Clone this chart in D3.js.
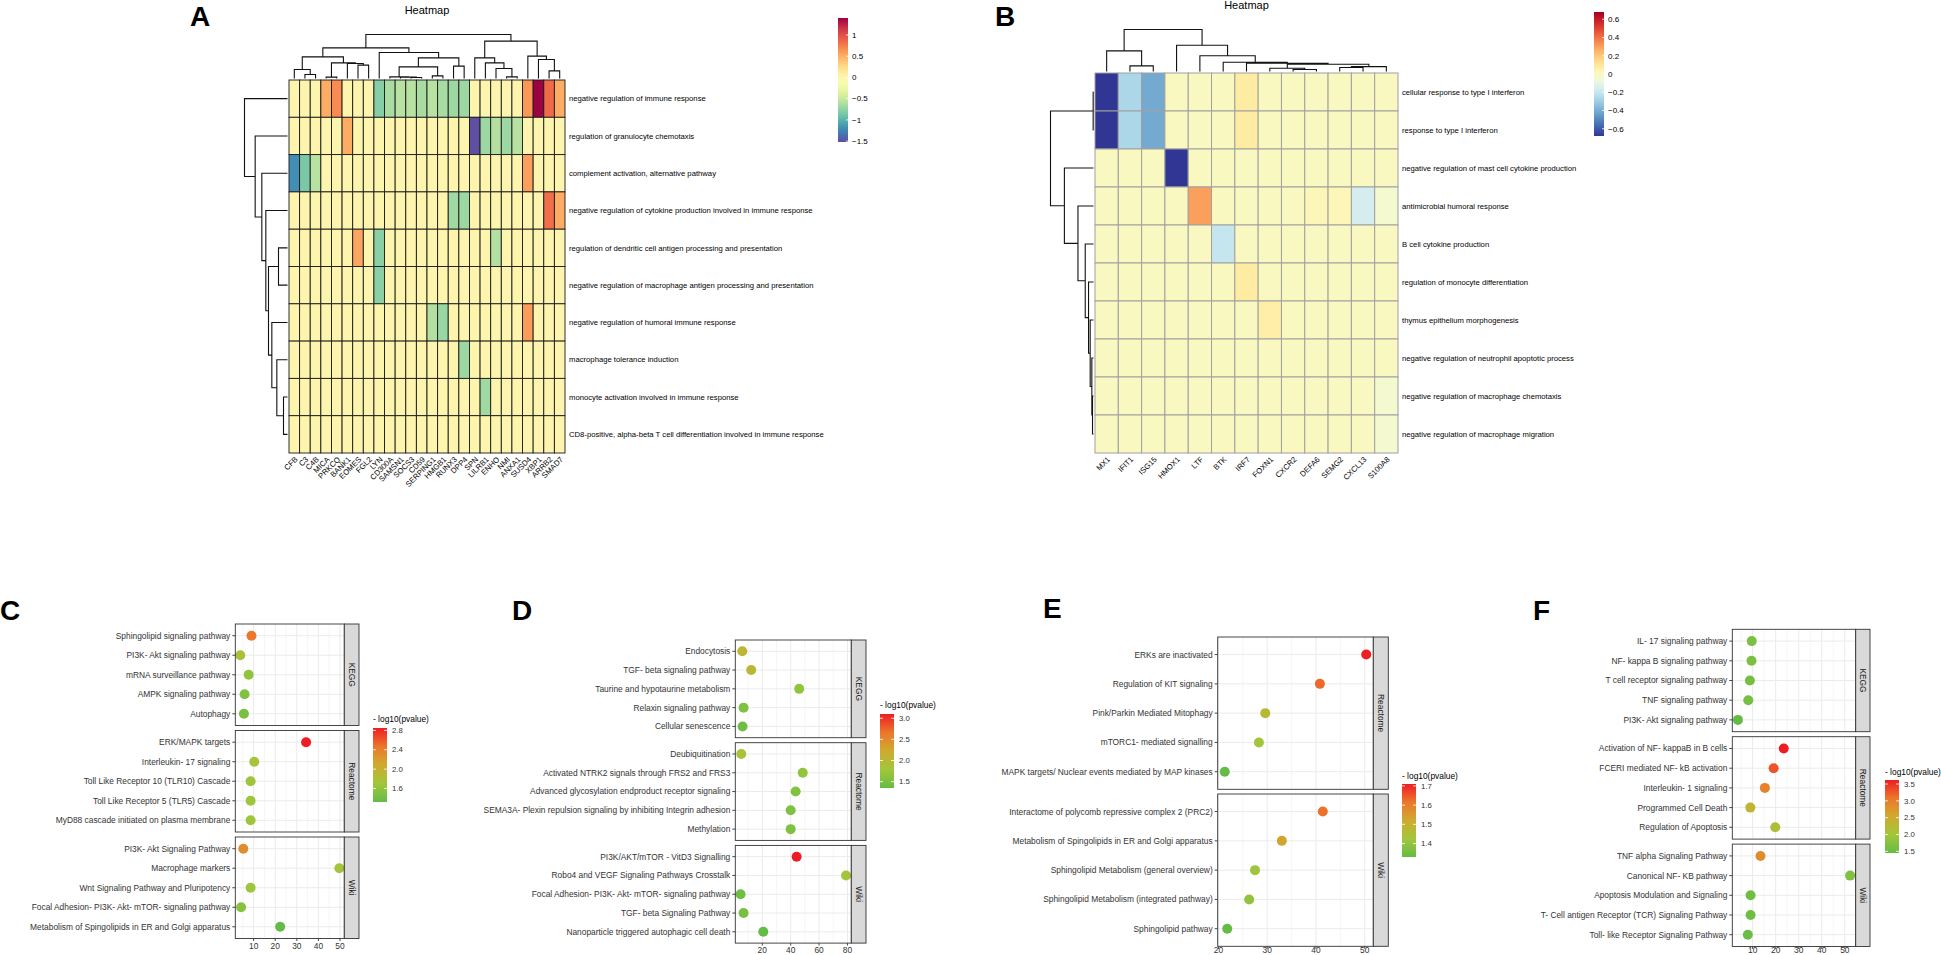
<!DOCTYPE html>
<html>
<head>
<meta charset="utf-8">
<script src="https://cdn.jsdelivr.net/npm/d3@7/dist/d3.min.js"></script>
<style>
html,body{margin:0;padding:0;background:#fff;}
svg{display:block;}
</style>
</head>
<body>
<svg id="fig" width="1941" height="955" xmlns="http://www.w3.org/2000/svg"></svg>
<script>
// ================= DATA =================
// ---- Panel A heatmap ----
const heatA_rows = [
  "negative regulation of immune response",
  "regulation of granulocyte chemotaxis",
  "complement activation, alternative pathway",
  "negative regulation of cytokine production involved in immune response",
  "regulation of dendritic cell antigen processing and presentation",
  "negative regulation of macrophage antigen processing and presentation",
  "negative regulation of humoral immune response",
  "macrophage tolerance induction",
  "monocyte activation involved in immune response",
  "CD8-positive, alpha-beta T cell differentiation involved in immune response"
];
const heatA_cols = ["CFB","C3","C4B","MICA","PRKCQ","BANK1","EOMES","FGL2","LYN","CD300A","SAMSN1","SOCS3","CD59",
  "SERPING1","HMGB1","RUNX3","DPP4","SPN","LILRB1","ENHO","NMI","ANXA1","SUSD4","XBP1","ARRB2","SMAD7"];
const heatA_values = [
  [0,0,0,0.52,0.68,0,0,0,-0.8,-0.65,-0.58,-0.58,-0.65,-0.58,-0.65,-0.7,-0.7,0,0,0,0,0,0.62,1.4,0.85,0.52],
  [0,0,0,0,0,0.52,0,0,0,0,0,0,0,0,0,0,0,-1.52,-0.7,-0.6,-0.7,-0.58,0,0,0,0],
  [-1.2,-0.85,-0.58,0,0,0,0,0,0,0,0,0,0,0,0,0,0,0,0,0,0,0,0.58,0,0,0],
  [0,0,0,0,0,0,0,0,0,0,0,0,0,0,0,-0.68,-0.7,0,0,0,0,0,0,0,0.82,0.52],
  [0,0,0,0,0,0,0.55,0,-0.78,0,0,0,0,0,0,0,0,0,0,-0.6,0,0,0,0,0,0],
  [0,0,0,0,0,0,0,0,-0.78,0,0,0,0,0,0,0,0,0,0,0,0,0,0,0,0,0],
  [0,0,0,0,0,0,0,0,0,0,0,0,0,-0.6,-0.72,0,0,0,0,0,0,0,0.6,0,0,0],
  [0,0,0,0,0,0,0,0,0,0,0,0,0,0,0,0,-0.7,0,0,0,0,0,0,0,0,0],
  [0,0,0,0,0,0,0,0,0,0,0,0,0,0,0,0,0,0,-0.68,0,0,0,0,0,0,0],
  [0,0,0,0,0,0,0,0,0,0,0,0,0,0,0,0,0,0,0,0,0,0,0,0,0,0]
];
// dendrograms: [height, left, right], leaves = index
const heatA_colTree = [132,
  [92,
    [65, [27, 0, [12, 1, 2]], [47, [4, 3, 4], [45, 5, [40, 6, 7]]]],
    [78, 8, [62, [35, [5, 9, [4, 10, [3, 11, 12]]], [8, 13, 14]], [37, 15, 16]]]
  ],
  [112,
    [62, 17, [47, 18, [30, 19, [5, 20, 21]]]],
    [67, 22, [57, 23, [23, 24, 25]]]
  ]
];
const heatA_rowTree = [129, 0, [97, 1, [77, 2, [65, 3, [57, [27, 4, 5], [47, 6, [32, 7, [12, 8, 9]]]]]]]];
const heatA_range = [-1.52, 1.4];
const heatA_legendTicks = [1, 0.5, 0, -0.5, -1, -1.5];

// ---- Panel B heatmap ----
const heatB_rows = [
  "cellular response to type I interferon",
  "response to type I interferon",
  "negative regulation of mast cell cytokine production",
  "antimicrobial humoral response",
  "B cell cytokine production",
  "regulation of monocyte differentiation",
  "thymus epithelium morphogenesis",
  "negative regulation of neutrophil apoptotic process",
  "negative regulation of macrophage chemotaxis",
  "negative regulation of macrophage migration"
];
const heatB_cols = ["MX1","IFIT1","ISG15","HMOX1","LTF","BTK","IRF7","FOXN1","CXCR2","DEFA6","SEMG2","CXCL13","S100A8"];
const heatB_values = [
  [-0.68,-0.27,-0.41,0,0,0,0.08,0,0,0,0,0,0],
  [-0.68,-0.27,-0.41,0,0,0,0.08,0,0,0,0,0,0],
  [0,0,0,-0.68,0,0,0,0,0,0,0,0,0],
  [0,0,0,0,0.3,0,0,0,0,0.02,0.02,-0.16,-0.04],
  [0,0,0,0,0,-0.2,0,0,0,0,0,0,0],
  [0,0,0,0,0,0,0.08,0,0,0,0,0,0],
  [0,0,0,0,0,0,0,0.07,0,0,0,0,0],
  [0,0,0,0,0,0,0,0,0,0,0,0,0],
  [0,0,0,0,0,0,0,0,0,0,0,0,-0.04],
  [0,0,0,0,0,0,0,0,0,0,0,0,-0.04]
];
const heatB_colTree = [128, [63, 0, [17, 1, 2]], [80, 3, [48, 4, [28, 5, [25, 6, [22, [10, 7, [6, 8, 9]], [15, [12, 10, 11], 12]]]]]]];
const heatB_rowTree = [130, [1, 0, 1], [88, 2, [47, 3, [25, 4, [15, 5, [10, 6, [5, 7, [3, 8, 9]]]]]]]];
const heatB_range = [-0.68, 0.68];
const heatB_legendTicks = [0.6, 0.4, 0.2, 0, -0.2, -0.4, -0.6];

// ---- Panel C dot plot ----
const C_terms = ["Sphingolipid signaling pathway","PI3K- Akt signaling pathway","mRNA surveillance pathway","AMPK signaling pathway","Autophagy",
  "ERK/MAPK targets","Interleukin- 17 signaling","Toll Like Receptor 10 (TLR10) Cascade","Toll Like Receptor 5 (TLR5) Cascade","MyD88 cascade initiated on plasma membrane",
  "PI3K- Akt Signaling Pathway","Macrophage markers","Wnt Signaling Pathway and Pluripotency","Focal Adhesion- PI3K- Akt- mTOR- signaling pathway","Metabolism of Spingolipids in ER and Golgi apparatus"];
const C_db = ["KEGG","KEGG","KEGG","KEGG","KEGG","Reactome","Reactome","Reactome","Reactome","Reactome","Wiki","Wiki","Wiki","Wiki","Wiki"];
const C_count = [9.0,3.8,7.7,5.8,5.5, 34.3,10.3,8.6,8.6,8.6, 5.2,49.7,8.6,4.2,22.3];
const C_score = [2.47,1.8,1.6,1.5,1.45, 2.85,1.75,1.68,1.68,1.68, 2.3,1.72,1.68,1.55,1.32];
const C_xTicks = [10,20,30,40,50];
const C_scoreTicks = [1.6,2.0,2.4,2.8];

// ---- Panel D dot plot ----
const D_terms = ["Endocytosis","TGF- beta signaling pathway","Taurine and hypotaurine metabolism","Relaxin signaling pathway","Cellular senescence",
  "Deubiquitination","Activated NTRK2 signals through FRS2 and FRS3","Advanced glycosylation endproduct receptor signaling","SEMA3A- Plexin repulsion signaling by inhibiting Integrin adhesion","Methylation",
  "PI3K/AKT/mTOR -  VitD3 Signalling","Robo4 and VEGF Signaling Pathways Crosstalk","Focal Adhesion- PI3K- Akt- mTOR- signaling pathway","TGF- beta Signaling Pathway","Nanoparticle triggered autophagic cell death"];
const D_db = ["KEGG","KEGG","KEGG","KEGG","KEGG","Reactome","Reactome","Reactome","Reactome","Reactome","Wiki","Wiki","Wiki","Wiki","Wiki"];
const D_count = [5.9,12.2,46,6.8,6.1, 5.2,48.5,43.5,40,40, 44.2,79,4.7,6.8,20.7];
const D_score = [2.05,2.0,1.68,1.55,1.42, 1.85,1.68,1.58,1.55,1.55, 3.1,1.8,1.42,1.5,1.35];
const D_xTicks = [20,40,60,80];
const D_scoreTicks = [1.5,2.0,2.5,3.0];

// ---- Panel E dot plot ----
const E_terms = ["ERKs are inactivated","Regulation of KIT signaling","Pink/Parkin Mediated Mitophagy","mTORC1- mediated signalling","MAPK targets/ Nuclear events mediated by MAP kinases",
  "Interactome of polycomb repressive complex 2 (PRC2)","Metabolism of Spingolipids in ER and Golgi apparatus","Sphingolipid Metabolism (general overview)","Sphingolipid Metabolism (integrated pathway)","Sphingolipid pathway"];
const E_db = ["Reactome","Reactome","Reactome","Reactome","Reactome","Wiki","Wiki","Wiki","Wiki","Wiki"];
const E_count = [50.3,40.8,29.6,28.3,21.3, 41.4,33.0,27.5,26.3,21.8];
const E_score = [1.71,1.63,1.47,1.43,1.33, 1.62,1.53,1.42,1.4,1.33];
const E_xTicks = [20,30,40,50];
const E_scoreTicks = [1.4,1.5,1.6,1.7];

// ---- Panel F dot plot ----
const F_terms = ["IL- 17 signaling pathway","NF- kappa B signaling pathway","T cell receptor signaling pathway","TNF signaling pathway","PI3K- Akt signaling pathway",
  "Activation of NF- kappaB in B cells","FCERI mediated NF- kB activation","Interleukin- 1 signaling","Programmed Cell Death","Regulation of Apoptosis",
  "TNF alpha Signaling Pathway","Canonical NF- KB pathway","Apoptosis Modulation and Signaling","T- Cell antigen Receptor (TCR) Signaling Pathway","Toll- like Receptor Signaling Pathway"];
const F_db = ["KEGG","KEGG","KEGG","KEGG","KEGG","Reactome","Reactome","Reactome","Reactome","Reactome","Wiki","Wiki","Wiki","Wiki","Wiki"];
const F_count = [9.6,9.5,8.8,8.1,3.6, 23.5,19.1,15.3,9.0,19.8, 13.4,52.3,9.1,9.1,7.9];
const F_score = [1.65,1.65,1.62,1.6,1.45, 3.62,3.3,2.95,2.35,2.15, 2.85,1.7,1.55,1.55,1.5];
const F_xTicks = [10,20,30,40,50];
const F_scoreTicks = [1.5,2.0,2.5,3.0,3.5];

// ================= STYLE / LAYOUT =================
const FONT = '"Liberation Sans", Arial, Helvetica, sans-serif';
const dotColorStops = ["#64BC46","#A2C63B","#CFAA2F","#EC772B","#EE1D24"];
const svg = d3.select("#fig").style("font-family", FONT);
const defs = svg.append("defs");

function addGradient(id, colorFn, n) {
  const lg = defs.append("linearGradient").attr("id", id)
    .attr("x1", 0).attr("x2", 0).attr("y1", 1).attr("y2", 0);
  d3.range(n + 1).forEach(i => {
    lg.append("stop").attr("offset", i / n).attr("stop-color", colorFn(i / n));
  });
}

// ---------- heatmap ----------
function drawHeatmap(rows, cols, values, colTree, rowTree, range, legendTicks, interp, geo) {
  const g = svg.append("g");
  const x = d3.scaleBand().domain(d3.range(cols.length)).range([geo.x0, geo.x1]);
  const y = d3.scaleBand().domain(d3.range(rows.length)).range([geo.y0, geo.y1]);
  const color = d3.scaleSequential(t => interp(1 - t)).domain(range);

  g.append("text").attr("x", (geo.x0 + geo.x1) / 2).attr("y", geo.titleY)
    .attr("text-anchor", "middle").attr("font-size", 11).attr("fill", "#000").text("Heatmap");

  const cells = [];
  values.forEach((r, i) => r.forEach((v, j) => cells.push({i, j, v})));
  g.selectAll("rect.cell").data(cells).join("rect").attr("class", "cell")
    .attr("x", d => x(d.j)).attr("y", d => y(d.i))
    .attr("width", x.bandwidth()).attr("height", y.bandwidth())
    .attr("fill", d => color(d.v))
    .attr("stroke", geo.border).attr("stroke-width", geo.borderW);

  function dendro(tree, posScale, toPt, hScale) {
    const p = d3.path();
    function walk(node) {
      if (typeof node === "number") return {p: posScale(node) + posScale.bandwidth() / 2, h: 0};
      const a = walk(node[1]), b = walk(node[2]);
      const h = node[0];
      let s = toPt(a.p, hScale(a.h)); p.moveTo(s[0], s[1]);
      s = toPt(a.p, hScale(h)); p.lineTo(s[0], s[1]);
      s = toPt(b.p, hScale(h)); p.lineTo(s[0], s[1]);
      s = toPt(b.p, hScale(b.h)); p.lineTo(s[0], s[1]);
      return {p: (a.p + b.p) / 2, h};
    }
    walk(tree);
    return p.toString();
  }
  const colH = d3.scaleLinear().domain([0, colTree[0]]).range([0, geo.colDH]);
  g.append("path").attr("d", dendro(colTree, x, (p, h) => [p, geo.y0 - 1.5 - h], colH))
    .attr("fill", "none").attr("stroke", "#111").attr("stroke-width", 1.1);
  const rowH = d3.scaleLinear().domain([0, rowTree[0]]).range([0, geo.rowDW]);
  g.append("path").attr("d", dendro(rowTree, y, (p, h) => [geo.x0 - 1.5 - h, p], rowH))
    .attr("fill", "none").attr("stroke", "#111").attr("stroke-width", 1.1);

  g.selectAll("text.rl").data(rows).join("text").attr("class", "rl")
    .attr("x", geo.x1 + 4).attr("y", (d, i) => y(i) + y.bandwidth() / 2).attr("dy", "0.35em")
    .attr("font-size", geo.fs).attr("fill", "#000").text(d => d);
  g.selectAll("text.cl").data(cols).join("text").attr("class", "cl")
    .attr("transform", (d, i) => `translate(${x(i) + x.bandwidth() / 2 + 2},${geo.y1 + 5}) rotate(-45)`)
    .attr("text-anchor", "end").attr("dy", "0.35em")
    .attr("font-size", geo.fs).attr("fill", "#000").text(d => d);

  const gid = "grad" + geo.id;
  addGradient(gid, t => color(range[0] + t * (range[1] - range[0])), 40);
  g.append("rect").attr("x", geo.legX).attr("y", geo.legY0).attr("width", geo.legW)
    .attr("height", geo.legY1 - geo.legY0).attr("fill", `url(#${gid})`);
  const ly = d3.scaleLinear().domain(range).range([geo.legY1, geo.legY0]);
  g.selectAll("text.lt").data(legendTicks).join("text").attr("class", "lt")
    .attr("x", geo.legX + geo.legW + 4).attr("y", d => ly(d)).attr("dy", "0.35em")
    .attr("font-size", 8).attr("fill", "#000").text(d => d < 0 ? "\u2212" + Math.abs(d) : String(d));
  g.selectAll("line.ltk").data(legendTicks).join("line").attr("class", "ltk")
    .attr("x1", geo.legX + geo.legW - 2).attr("x2", geo.legX + geo.legW)
    .attr("y1", d => ly(d)).attr("y2", d => ly(d)).attr("stroke", "#fff").attr("stroke-width", 0.8);

  g.append("text").attr("x", geo.letterX).attr("y", geo.letterY).attr("font-size", 28)
    .attr("font-weight", "bold").attr("fill", "#000").text(geo.letter);
}

drawHeatmap(heatA_rows, heatA_cols, heatA_values, heatA_colTree, heatA_rowTree, heatA_range, heatA_legendTicks,
  d3.interpolateSpectral,
  {id: "A", x0: 289, x1: 565, y0: 80, y1: 453, colDH: 44, rowDW: 43, border: "#1a1a1a", borderW: 0.9, fs: 7.7,
   titleY: 14, legX: 838, legW: 10, legY0: 18, legY1: 142, letter: "A", letterX: 190, letterY: 26});

drawHeatmap(heatB_rows, heatB_cols, heatB_values, heatB_colTree, heatB_rowTree, heatB_range, heatB_legendTicks,
  d3.interpolateRdYlBu,
  {id: "B", x0: 1095, x1: 1398, y0: 73, y1: 453, colDH: 42, rowDW: 43, border: "#a0a0a0", borderW: 1, fs: 7.7,
   titleY: 9, legX: 1594, legW: 10, legY0: 12, legY1: 136, letter: "B", letterX: 995, letterY: 26});

// ---------- dot plots ----------
function drawDot(terms, db, count, score, xTicks, sTicks, geo) {
  const g = svg.append("g");
  const facets = Array.from(new Set(db));
  const ext = d3.extent(count), pad = (ext[1] - ext[0]) * 0.05;
  const x = d3.scaleLinear().domain([ext[0] - pad, ext[1] + pad]).range([geo.x0, geo.x1]);
  const sExt = d3.extent(score);
  const col = d3.scaleLinear()
    .domain(dotColorStops.map((c, i) => sExt[0] + i / (dotColorStops.length - 1) * (sExt[1] - sExt[0])))
    .range(dotColorStops).interpolate(d3.interpolateRgb).clamp(true);

  const step = xTicks[1] - xTicks[0];
  const minors = [];
  for (let v = xTicks[0] - step / 2; v < x.domain()[1]; v += step) {
    if (v > x.domain()[0]) minors.push(v);
  }
  let lastBottom = 0;
  facets.forEach((f, fi) => {
    const top = geo.top + fi * (geo.fh + geo.gap), bot = top + geo.fh;
    lastBottom = bot;
    const idx = d3.range(terms.length).filter(i => db[i] === f);
    const y = d3.scalePoint().domain(idx.map(i => terms[i])).range([top, bot]).padding(0.6);
    g.append("rect").attr("x", geo.x0).attr("y", top).attr("width", geo.x1 - geo.x0).attr("height", geo.fh).attr("fill", "#fff");
    g.selectAll(null).data(minors).join("line")
      .attr("x1", d => x(d)).attr("x2", d => x(d)).attr("y1", top).attr("y2", bot)
      .attr("stroke", "#EBEBEB").attr("stroke-width", 0.5);
    g.selectAll(null).data(xTicks.filter(v => v > x.domain()[0] && v < x.domain()[1])).join("line")
      .attr("x1", d => x(d)).attr("x2", d => x(d)).attr("y1", top).attr("y2", bot)
      .attr("stroke", "#EBEBEB").attr("stroke-width", 1);
    g.selectAll(null).data(idx).join("line")
      .attr("x1", geo.x0).attr("x2", geo.x1).attr("y1", i => y(terms[i])).attr("y2", i => y(terms[i]))
      .attr("stroke", "#EBEBEB").attr("stroke-width", 1);
    g.selectAll(null).data(idx).join("circle")
      .attr("cx", i => x(count[i])).attr("cy", i => y(terms[i])).attr("r", 5)
      .attr("fill", i => col(score[i]));
    g.append("rect").attr("x", geo.x0).attr("y", top).attr("width", geo.x1 - geo.x0).attr("height", geo.fh)
      .attr("fill", "none").attr("stroke", "#333").attr("stroke-width", 0.9);
    g.append("rect").attr("x", geo.x1).attr("y", top).attr("width", geo.strip).attr("height", geo.fh)
      .attr("fill", "#D9D9D9").attr("stroke", "#333").attr("stroke-width", 0.9);
    g.append("text").attr("transform", `translate(${geo.x1 + geo.strip / 2},${(top + bot) / 2}) rotate(90)`)
      .attr("text-anchor", "middle").attr("dy", "0.35em").attr("font-size", 8.4).attr("fill", "#1A1A1A").text(f);
    g.selectAll(null).data(idx).join("line")
      .attr("x1", geo.x0 - 3).attr("x2", geo.x0).attr("y1", i => y(terms[i])).attr("y2", i => y(terms[i]))
      .attr("stroke", "#333").attr("stroke-width", 0.9);
    g.selectAll(null).data(idx).join("text")
      .attr("x", geo.x0 - 5).attr("y", i => y(terms[i])).attr("dy", "0.35em").attr("text-anchor", "end")
      .attr("font-size", 8.4).attr("fill", "#333").text(i => terms[i]);
  });
  g.selectAll(null).data(xTicks).join("line")
    .attr("x1", d => x(d)).attr("x2", d => x(d)).attr("y1", lastBottom).attr("y2", lastBottom + 2.5)
    .attr("stroke", "#333").attr("stroke-width", 0.9);
  g.selectAll(null).data(xTicks).join("text")
    .attr("x", d => x(d)).attr("y", Math.min(lastBottom + 10.5, 953)).attr("text-anchor", "middle")
    .attr("font-size", 8.4).attr("fill", "#333").text(d => d);

  const gid = "dgrad" + geo.letter;
  addGradient(gid, t => col(sExt[0] + t * (sExt[1] - sExt[0])), 40);
  g.append("text").attr("x", geo.legX).attr("y", geo.legTitleY).attr("font-size", 8.4).attr("fill", "#000").text("- log10(pvalue)");
  g.append("rect").attr("x", geo.legX).attr("y", geo.legY0).attr("width", 14).attr("height", geo.legH)
    .attr("fill", `url(#${gid})`);
  const ly = d3.scaleLinear().domain(sExt).range([geo.legY0 + geo.legH, geo.legY0]);
  const fmt = d3.format(".1f");
  g.selectAll(null).data(sTicks).join("line")
    .attr("x1", geo.legX).attr("x2", geo.legX + 3).attr("y1", d => ly(d)).attr("y2", d => ly(d))
    .attr("stroke", "#fff").attr("stroke-width", 0.8);
  g.selectAll(null).data(sTicks).join("line")
    .attr("x1", geo.legX + 11).attr("x2", geo.legX + 14).attr("y1", d => ly(d)).attr("y2", d => ly(d))
    .attr("stroke", "#fff").attr("stroke-width", 0.8);
  g.selectAll(null).data(sTicks).join("text")
    .attr("x", geo.legX + 19).attr("y", d => ly(d)).attr("dy", "0.35em")
    .attr("font-size", 7.8).attr("fill", "#333").text(d => fmt(d));

  g.append("text").attr("x", geo.letterX).attr("y", geo.letterY).attr("font-size", 28)
    .attr("font-weight", "bold").attr("fill", "#000").text(geo.letter);
}

drawDot(C_terms, C_db, C_count, C_score, C_xTicks, C_scoreTicks,
  {letter: "C", letterX: 0, letterY: 620, x0: 235.3, x1: 344.3, strip: 14.7, top: 624, fh: 101.5, gap: 5,
   legX: 373, legTitleY: 722, legY0: 728, legH: 74});
drawDot(D_terms, D_db, D_count, D_score, D_xTicks, D_scoreTicks,
  {letter: "D", letterX: 512, letterY: 620, x0: 735.3, x1: 851.3, strip: 14.7, top: 640, fh: 97.7, gap: 5,
   legX: 880, legTitleY: 708, legY0: 714, legH: 74});
drawDot(E_terms, E_db, E_count, E_score, E_xTicks, E_scoreTicks,
  {letter: "E", letterX: 1043, letterY: 618, x0: 1217.7, x1: 1373.3, strip: 15, top: 637, fh: 152.3, gap: 4.7,
   legX: 1402, legTitleY: 779, legY0: 784, legH: 73});
drawDot(F_terms, F_db, F_count, F_score, F_xTicks, F_scoreTicks,
  {letter: "F", letterX: 1533, letterY: 620, x0: 1732.3, x1: 1855.7, strip: 14.3, top: 629.3, fh: 102.4, gap: 5,
   legX: 1885, legTitleY: 775, legY0: 780, legH: 73});
</script>
</body>
</html>
